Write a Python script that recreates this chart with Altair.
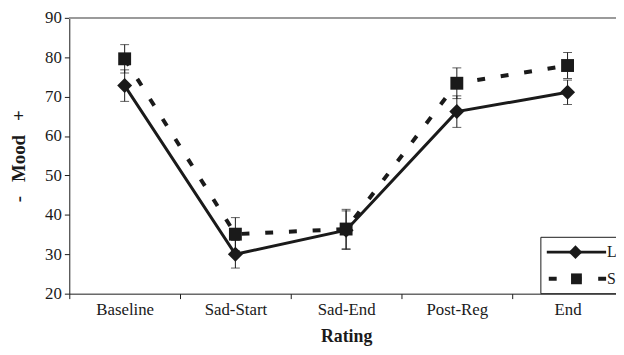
import altair as alt
import pandas as pd

ratings = ["Baseline", "Sad-Start", "Sad-End", "Post-Reg", "End"]
series_names = ["L", "S"]
l_mean = [72.8, 30.0, 36.1, 66.2, 71.1]
l_err = [4.0, 3.5, 4.9, 4.0, 3.1]
s_mean = [79.6, 35.1, 36.4, 73.4, 77.9]
s_err = [3.6, 4.2, 5.0, 3.9, 3.3]
y_ticks = [20, 30, 40, 50, 60, 70, 80, 90]

rows = []
for name, means, errs in [("L", l_mean, l_err), ("S", s_mean, s_err)]:
    for r, m, e in zip(ratings, means, errs):
        rows.append({"rating": r, "series": name, "mean": m, "lo": m - e, "hi": m + e})
df = pd.DataFrame(rows)

FONT = "Liberation Serif"
INK = "#1a1a1a"
NB = "\u00a0"

x_enc = alt.X(
    "rating:N",
    sort=ratings,
    scale=alt.Scale(domain=ratings, range=[0, 560], paddingInner=0, paddingOuter=0),
    axis=alt.Axis(
        title="Rating", tickBand="extent", tickSize=5, tickColor=INK, domainColor=INK,
        labelFont=FONT, labelFontSize=17, labelColor=INK, labelPadding=3, labelAngle=0,
        titleFont=FONT, titleFontSize=18, titleFontWeight="bold", titleColor=INK,
        titlePadding=10, grid=False,
    ),
)
y_scale = alt.Scale(domain=[20, 90], nice=False, zero=False)
y_axis = alt.Axis(
    title=f"-{NB}{NB}{NB}Mood{NB}{NB}{NB}+", values=y_ticks, tickSize=5, labelOverlap=False,
    tickColor=INK, domainColor=INK, labelFont=FONT, labelFontSize=17,
    labelColor=INK, labelPadding=3, titleFont=FONT, titleFontSize=19,
    titleFontWeight="bold", titleColor=INK, titlePadding=16, grid=False,
)
y_enc = alt.Y("mean:Q", scale=y_scale, axis=y_axis)

base = alt.Chart(df)

layers = []
top_line = base.mark_rule(color="#9a9a9a", strokeWidth=1).encode(
    y=alt.Y(datum=90, scale=y_scale, axis=y_axis)
)
layers.append(top_line)

for name in series_names:
    sub = base.transform_filter(alt.datum.series == name)
    err = sub.mark_rule(color=INK, strokeWidth=1).encode(
        x=x_enc, y=alt.Y("lo:Q", scale=y_scale, axis=y_axis), y2="hi:Q"
    )
    cap_lo = sub.mark_tick(color=INK, thickness=1, size=9).encode(
        x=x_enc, y=alt.Y("lo:Q", scale=y_scale, axis=y_axis))
    cap_hi = sub.mark_tick(color=INK, thickness=1, size=9).encode(
        x=x_enc, y=alt.Y("hi:Q", scale=y_scale, axis=y_axis))
    if name == "L":
        line = sub.mark_line(color=INK, strokeWidth=3).encode(x=x_enc, y=y_enc)
        pts = sub.mark_point(shape="diamond", size=230, filled=True, color=INK, opacity=1).encode(x=x_enc, y=y_enc)
    else:
        line = sub.mark_line(color=INK, strokeWidth=4, strokeDash=[8, 16]).encode(x=x_enc, y=y_enc)
        pts = sub.mark_point(shape="square", size=170, filled=True, color=INK, opacity=1).encode(x=x_enc, y=y_enc)
    layers += [err, cap_lo, cap_hi, line, pts]

# legend (partially cut off at the right edge, as in the reference)
one = alt.Chart(pd.DataFrame({"k": [0]}))
leg_box = one.mark_rect(fill="white", stroke=INK, strokeWidth=1).encode(
    x=alt.value(477), x2=alt.value(600), y=alt.value(222), y2=alt.value(279)
)
leg_l_line = one.mark_rule(color=INK, strokeWidth=3).encode(
    x=alt.value(483), x2=alt.value(543), y=alt.value(237)
)
leg_l_pt = one.mark_point(shape="diamond", size=190, filled=True, color=INK, opacity=1).encode(
    x=alt.value(512), y=alt.value(237)
)
leg_l_txt = one.mark_text(text=series_names[0], font=FONT, fontSize=16, align="left", baseline="middle", color=INK).encode(
    x=alt.value(544), y=alt.value(237)
)
leg_s_line = one.mark_rule(color=INK, strokeWidth=4, strokeDash=[8, 17]).encode(
    x=alt.value(485), x2=alt.value(545), y=alt.value(264)
)
leg_s_pt = one.mark_point(shape="square", size=120, filled=True, color=INK, opacity=1).encode(
    x=alt.value(513), y=alt.value(264)
)
leg_s_txt = one.mark_text(text=series_names[1], font=FONT, fontSize=16, align="left", baseline="middle", color=INK).encode(
    x=alt.value(544), y=alt.value(264)
)
layers += [leg_box, leg_l_line, leg_l_pt, leg_l_txt, leg_s_line, leg_s_pt, leg_s_txt]

chart = alt.layer(*layers).properties(
    width=553,
    height=279,
    autosize=alt.AutoSizeParams(type="none"),
    padding={"left": 62, "top": 8, "right": 0, "bottom": 52},
).configure_view(stroke=None)

chart.save("out.html", embed_options={"renderer": "svg", "actions": False})
